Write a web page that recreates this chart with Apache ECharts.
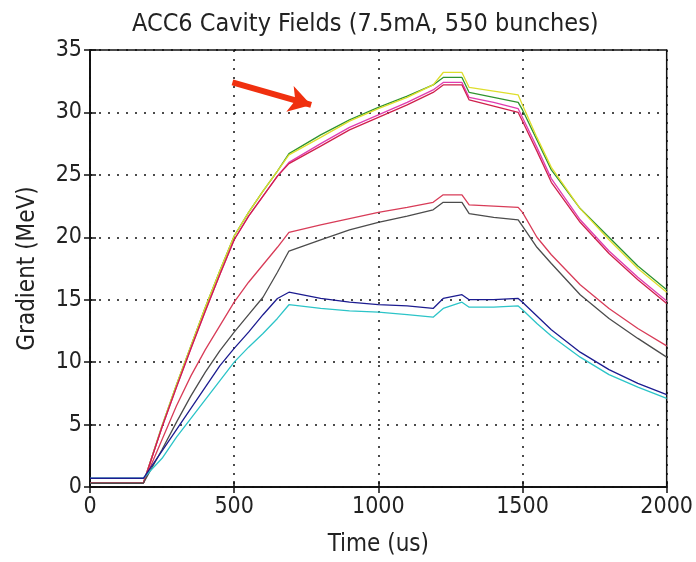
<!DOCTYPE html>
<html>
<head>
<meta charset="utf-8">
<script src="https://cdn.jsdelivr.net/npm/echarts@6/dist/echarts.min.js"></script>
<style>
  html, body { margin: 0; padding: 0; background: #fff; }
  #main { width: 696px; height: 562px; }
</style>
</head>
<body>
<div id="main"></div>
<script>
// time axis (us), shared by every cavity trace
const times = [0, 185, 250, 300, 350, 400, 450, 500, 550, 600, 650, 690, 800, 900, 1000, 1100, 1190, 1225, 1290, 1315, 1400, 1485, 1500, 1550, 1600, 1700, 1800, 1900, 2000];

// gradient (MeV) per cavity
const green   = [0.3, 0.3, 4.9, 8.2, 11.3, 14.4, 17.3, 20.1, 22.0, 23.7, 25.3, 26.7, 28.2, 29.4, 30.4, 31.3, 32.2, 32.8, 32.8, 31.6, 31.2, 30.8, 30.2, 27.8, 25.4, 22.3, 20.0, 17.7, 15.8];
const yellow  = [0.3, 0.3, 4.9, 8.2, 11.3, 14.4, 17.3, 20.1, 22.0, 23.7, 25.3, 26.6, 28.0, 29.3, 30.3, 31.2, 32.2, 33.2, 33.2, 32.0, 31.7, 31.4, 30.6, 28.0, 25.6, 22.3, 19.8, 17.5, 15.6];
const magenta = [0.3, 0.3, 4.8, 8.0, 11.1, 14.1, 17.0, 19.8, 21.7, 23.3, 24.9, 26.0, 27.5, 28.8, 29.8, 30.8, 31.8, 32.4, 32.4, 31.2, 30.8, 30.3, 29.6, 27.2, 24.7, 21.4, 18.9, 16.8, 14.9];
const red     = [0.3, 0.3, 4.8, 8.0, 11.1, 14.1, 17.0, 19.8, 21.7, 23.3, 24.9, 25.9, 27.3, 28.6, 29.6, 30.6, 31.6, 32.2, 32.2, 31.0, 30.5, 30.0, 29.3, 26.9, 24.4, 21.2, 18.7, 16.6, 14.7];
const crimson = [0.3, 0.3, 3.8, 6.5, 8.9, 11.0, 12.9, 14.8, 16.4, 17.8, 19.2, 20.4, 21.0, 21.5, 22.0, 22.4, 22.8, 23.4, 23.4, 22.6, 22.5, 22.4, 22.0, 20.0, 18.6, 16.2, 14.3, 12.7, 11.3];
const gray    = [0.3, 0.3, 3.0, 5.2, 7.3, 9.2, 10.9, 12.4, 13.8, 15.2, 17.2, 18.9, 19.8, 20.6, 21.2, 21.7, 22.2, 22.8, 22.8, 21.9, 21.6, 21.4, 20.9, 19.2, 17.9, 15.4, 13.5, 11.9, 10.4];
const navy    = [0.7, 0.7, 2.9, 4.6, 6.3, 8.0, 9.7, 11.1, 12.4, 13.8, 15.1, 15.6, 15.1, 14.8, 14.6, 14.5, 14.3, 15.1, 15.4, 15.0, 15.0, 15.1, 14.8, 13.7, 12.6, 10.8, 9.4, 8.3, 7.4];
const cyan    = [0.7, 0.7, 2.3, 4.0, 5.5, 7.0, 8.5, 10.0, 11.2, 12.3, 13.5, 14.6, 14.3, 14.1, 14.0, 13.8, 13.6, 14.3, 14.8, 14.4, 14.4, 14.5, 14.2, 13.1, 12.1, 10.4, 9.0, 8.0, 7.1];

const xTicks = [0, 500, 1000, 1500, 2000];
const yTicks = [0, 5, 10, 15, 20, 25, 30, 35];

// annotation arrow, in data units
const arrowFrom = [494, 32.4];
const arrowTo = [767, 30.6];

const font = '"DejaVu Sans Condensed", "Liberation Sans Narrow", sans-serif';

const traces = [
  { name: 'green', data: green, color: '#2f942f' },
  { name: 'yellow', data: yellow, color: '#dede2c' },
  { name: 'magenta', data: magenta, color: '#e03cb0' },
  { name: 'red', data: red, color: '#d0204c' },
  { name: 'crimson', data: crimson, color: '#d83c58' },
  { name: 'gray', data: gray, color: '#4c4c4c' },
  { name: 'cyan', data: cyan, color: '#2cc4c8' },
  { name: 'navy', data: navy, color: '#1c1c90' }
];

const dotted = { color: '#111', width: 1.5, type: [2, 7] };

const series = traces.map(t => ({
  name: t.name,
  type: 'line',
  showSymbol: false,
  symbol: 'none',
  data: times.map((x, i) => [x, t.data[i]]),
  lineStyle: { color: t.color, width: 1.3 },
  itemStyle: { color: t.color },
  z: 3
}));

series.push({
  name: 'arrow',
  type: 'line',
  data: [],
  markLine: {
    silent: true,
    symbol: ['none', 'arrow'],
    symbolSize: [20, 22],
    label: { show: false },
    lineStyle: { color: '#f0300f', width: 6, type: 'solid' },
    emphasis: { disabled: true },
    data: [[{ coord: arrowFrom }, { coord: arrowTo }]]
  }
});

const chart = echarts.init(document.getElementById('main'));
chart.setOption({
  backgroundColor: '#fff',
  animation: false,
  title: {
    text: 'ACC6 Cavity Fields (7.5mA, 550 bunches)',
    left: 127,
    top: 7,
    textStyle: { fontFamily: font, fontSize: 25, fontWeight: 'normal', color: '#222' }
  },
  grid: {
    left: 90, right: 27, top: 50, bottom: 72,
    show: true, borderColor: '#111', borderWidth: 1.5, backgroundColor: '#fff'
  },
  xAxis: [{
    type: 'value', min: 0, max: 2000, interval: 500,
    name: 'Time (us)', nameLocation: 'middle', nameGap: 46,
    nameTextStyle: { fontFamily: font, fontSize: 24, color: '#222' },
    axisLine: { show: true, onZero: false, lineStyle: { color: '#111', width: 1.5 } },
    axisTick: { show: true, inside: true, length: 6, lineStyle: { color: '#111', width: 1.5 } },
    axisLabel: { fontFamily: font, fontSize: 23, color: '#222', margin: 9,
      formatter: v => xTicks.includes(v) ? String(v) : '' },
    splitLine: { show: true, lineStyle: dotted }
  }, {
    type: 'value', min: 0, max: 2000, interval: 500, position: 'top',
    axisLine: { show: true, lineStyle: { color: '#111', width: 1.5 } },
    axisTick: { show: true, inside: true, length: 6, lineStyle: { color: '#111', width: 1.5 } },
    axisLabel: { show: false },
    splitLine: { show: false }
  }],
  yAxis: [{
    type: 'value', min: 0, max: 35, interval: 5,
    name: 'Gradient (MeV)', nameLocation: 'middle', nameGap: 50,
    nameTextStyle: { fontFamily: font, fontSize: 24, color: '#222' },
    axisLine: { show: true, onZero: false, lineStyle: { color: '#111', width: 1.5 } },
    axisTick: { show: true, inside: true, length: 6, lineStyle: { color: '#111', width: 1.5 } },
    axisLabel: { fontFamily: font, fontSize: 23, color: '#222', margin: 8,
      formatter: v => yTicks.includes(v) ? String(v) : '' },
    splitLine: { show: true, lineStyle: dotted }
  }, {
    type: 'value', min: 0, max: 35, interval: 5, position: 'right',
    axisLine: { show: true, lineStyle: { color: '#111', width: 1.5 } },
    axisTick: { show: true, inside: true, length: 6, lineStyle: { color: '#111', width: 1.5 } },
    axisLabel: { show: false },
    splitLine: { show: false }
  }],
  series: series
});
</script>
</body>
</html>
